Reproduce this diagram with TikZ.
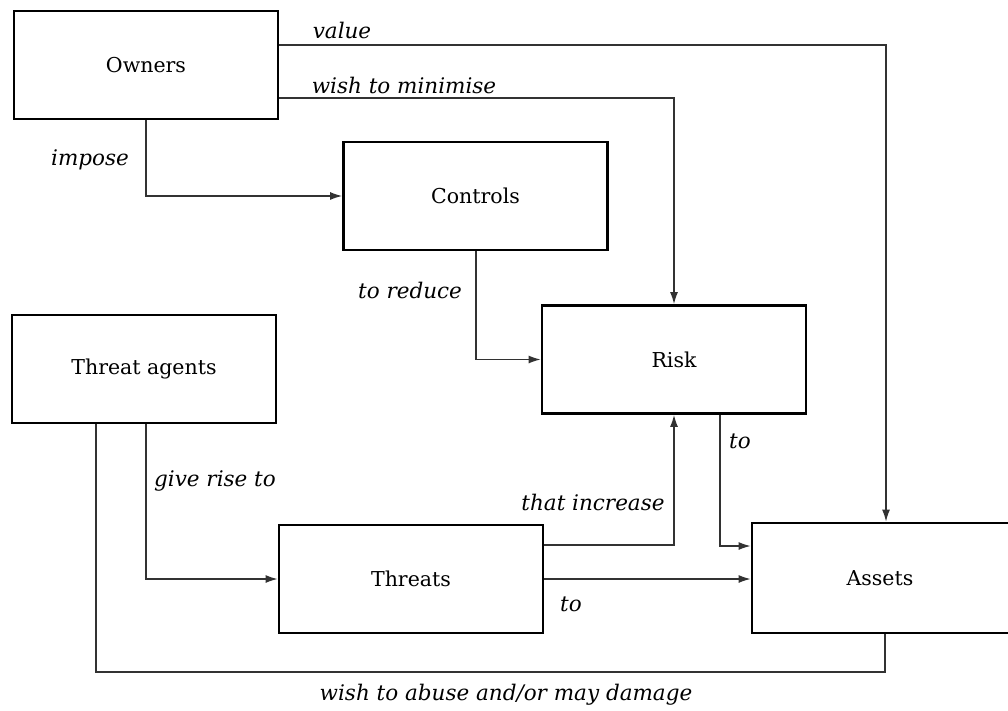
\documentclass[tikz,border=0pt]{standalone}
\usepackage{fontspec}
\setmainfont{DejaVu Serif}
\usetikzlibrary{arrows.meta,positioning}
\definecolor{lineC}{RGB}{50,50,50}
\tikzset{
    box/.style  = {draw=black, line width=2.8pt, fill=white,
            minimum width=264pt, minimum height=108pt,
            align=center, inner sep=0pt, font=\fontsize{20.5}{24}\selectfont},
    conn/.style = {draw=lineC, line width=1.3pt,
            -{Latex[length=12pt,width=8pt]}},
    plain/.style = {draw=lineC, line width=1.3pt},
    lbl/.style  = {inner sep=0pt, font=\fontsize{21.5}{26}\selectfont\itshape},
}

\begin{document}
\begin{tikzpicture}[x=1pt,y=-1pt]
    \useasboundingbox (0,0) rectangle (1008,711);
    \clip (0,0) rectangle (1008,711);
    % boxes
    \node[box] (owners)   at (146,65)    {Owners};
    \node[box] (controls) at (475.5,196) {Controls};
    \node[box] (risk)     at (674,359.5) {Risk};
    \node[box] (agents)   at (144,369)   {Threat agents};
    \node[box] (threats)  at (411,579)   {Threats};
    \node[box, minimum height=110pt] (assets) at (884,578) {\hspace*{-8pt}Assets};

    % connectors
    \draw[conn] (owners.east |- 0,45) -| (assets.north -| 886,0);
    \draw[conn] (owners.east |- 0,98) -| (risk.north);
    \draw[conn] (owners.south) |- (controls.west);
    \draw[conn] (controls.south -| 476,0) |- (risk.west);
    \draw[conn] (agents.south -| 146,0) |- (threats.west);
    \draw[conn] (threats.east |- 0,545) -| (risk.south);
    \draw[conn] (threats.east) -- (assets.west |- threats.east);
    \draw[conn] (risk.south -| 720,0) |- (assets.west |- 0,546);
    \draw[plain] (assets.south -| 885,0) |- (96,672) -- (agents.south -| 96,0);

    % labels
    \node[lbl] (lValue)    at (342,30)  {value};
    \node[lbl] (lMinimise) at (404,85)  {wish to minimise};
    \node[lbl] (lImpose)   at (90,160)  {impose};
    \node[lbl] (lReduce)   at (410,290) {to reduce};
    \node[lbl] (lRise)     at (215,481) {give rise to};
    \node[lbl] (lIncrease) at (593,502) {that increase};
    \node[lbl] (lToA)      at (571,604) {to};
    \node[lbl] (lToB)      at (740,441) {to};
    \node[lbl] (lAbuse)    at (506,695) {wish to abuse and/or may damage};
\end{tikzpicture}
\end{document}
